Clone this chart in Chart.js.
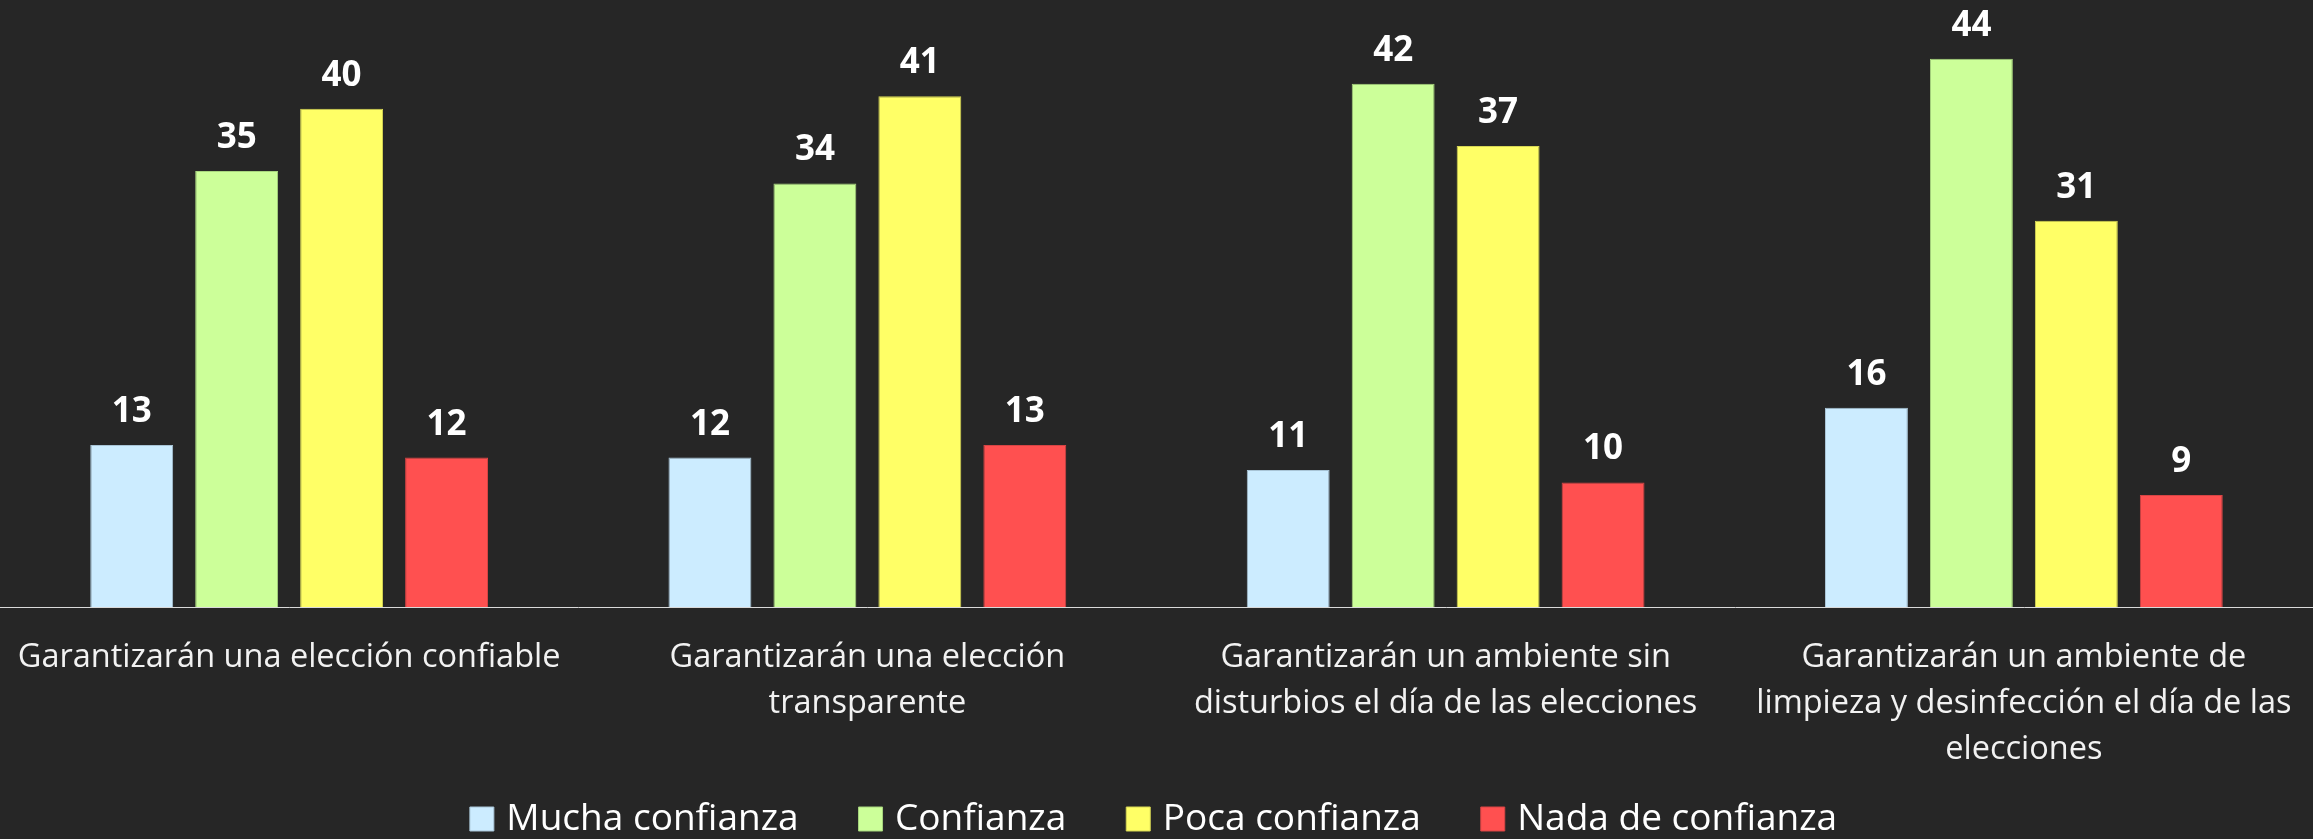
<!DOCTYPE html>
<html>
<head>
<meta charset="utf-8">
<script src="https://cdn.jsdelivr.net/npm/chart.js@4"></script>
<style>
  html, body { margin: 0; padding: 0; background: #262626; }
  #wrap { width: 2313px; height: 839px; position: relative; }
</style>
</head>
<body>
<div id="wrap"><canvas id="chart"></canvas></div>
<script>
// Categories (multi-line tick labels)
const categories = [
  'Garantizarán una elección confiable',
  ['Garantizarán una elección', 'transparente'],
  ['Garantizarán un ambiente sin', 'disturbios el día de las elecciones'],
  ['Garantizarán un ambiente de', 'limpieza y desinfección el día de las', 'elecciones']
];

// Series
const seriesNames = ['Mucha confianza', 'Confianza', 'Poca confianza', 'Nada de confianza'];
const muchaConfianza = [13, 12, 11, 16];
const confianza = [35, 34, 42, 44];
const pocaConfianza = [40, 41, 37, 31];
const nadaConfianza = [12, 13, 10, 9];

const fillColors = ['#CCECFF', '#CCFF99', '#FFFF66', '#FF5050'];
const edgeColors = ['#a8c4d6', '#a8d67e', '#d6d654', '#d64444'];

const FONT = "'Open Sans', 'DejaVu Sans', sans-serif";

// Draws the value above every bar
const valueLabels = {
  id: 'valueLabels',
  afterDatasetsDraw(chart) {
    const ctx = chart.ctx;
    ctx.save();
    ctx.font = 'bold 35px ' + FONT;
    ctx.fillStyle = '#ffffff';
    ctx.textAlign = 'center';
    ctx.textBaseline = 'alphabetic';
    chart.data.datasets.forEach((ds, i) => {
      const meta = chart.getDatasetMeta(i);
      meta.data.forEach((bar, j) => {
        ctx.fillText(String(ds.data[j]), bar.x, bar.y - 23);
      });
    });
    ctx.restore();
  }
};

// The x axis is squeezed so the legend can sit close to it;
// let its tick labels draw past its box instead of being clipped
const unclipTicks = {
  id: 'unclipTicks',
  afterLayout(chart) {
    chart.scales.x.bottom = chart.height;
  }
};

const seriesData = [muchaConfianza, confianza, pocaConfianza, nadaConfianza];

const ctx = document.getElementById('chart').getContext('2d');
new Chart(ctx, {
  type: 'bar',
  data: {
    labels: categories,
    datasets: seriesData.map((vals, i) => ({
      label: seriesNames[i],
      data: vals,
      backgroundColor: fillColors[i],
      borderColor: edgeColors[i],
      borderWidth: 1,
      categoryPercentage: 0.726,
      barPercentage: 0.79
    }))
  },
  options: {
    responsive: true,
    maintainAspectRatio: false,
    animation: false,
    layout: { padding: { top: 9, left: 0, right: 0, bottom: 0 } },
    plugins: {
      tooltip: { enabled: false },
      legend: {
        position: 'bottom',
        maxHeight: 104.5,
        labels: {
          color: '#ffffff',
          font: { family: FONT, size: 37 },
          usePointStyle: true,
          pointStyle: 'rect',
          boxWidth: 12,
          boxHeight: 24,
          padding: 66
        }
      }
    },
    scales: {
      x: {
        // tick marks kept (invisible) only to push the labels down
        grid: { display: true, drawOnChartArea: false, drawTicks: true, tickLength: 28, color: 'rgba(0,0,0,0)' },
        border: { display: true, color: '#d9d9d9', width: 1 },
        ticks: {
          color: '#f2f2f2',
          font: { family: FONT, size: 32.5, lineHeight: 1.415 },
          padding: 0,
          maxRotation: 0,
          autoSkip: false
        },
        afterFit(scale) { scale.height = 127.5; }
      },
      y: {
        display: false,
        min: 0,
        max: 48
      }
    }
  },
  plugins: [valueLabels, unclipTicks]
});
</script>
</body>
</html>
